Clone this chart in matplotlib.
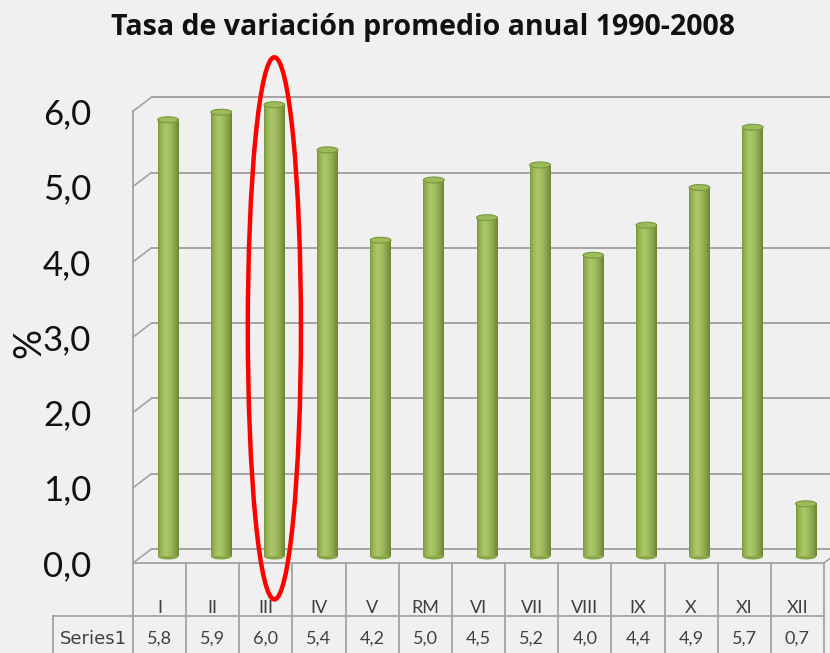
import numpy as np
import matplotlib
matplotlib.use("Agg")
import matplotlib.pyplot as plt
import matplotlib.transforms as mtransforms
from matplotlib.patches import Ellipse

# data
categories = ["I", "II", "III", "IV", "V", "RM", "VI", "VII", "VIII", "IX", "X", "XI", "XII"]
values = [5.8, 5.9, 6.0, 5.4, 4.2, 5.0, 4.5, 5.2, 4.0, 4.4, 4.9, 5.7, 0.7]
yticks = [0, 1, 2, 3, 4, 5, 6]
series_name = "Series1"
highlight = "III"

W, H = 830, 653
fig = plt.figure(figsize=(W / 100, H / 100), dpi=100)
fig.patch.set_facecolor("#f0f0f0")

# front plane of the 3D box in pixels
x0_px, colw = 133, 53.15
y0_px, unit = 563, 75.3
ax = fig.add_axes([x0_px / W, 1 - y0_px / H, 13 * colw / W, 6 * unit / H])
ax.set_xlim(-0.5, 12.5)
ax.set_ylim(0, 6)
ax.set_facecolor("none")
for s in ax.spines.values():
    s.set_visible(False)
ax.set_xticks([])
ax.set_yticks(yticks)
ax.set_yticklabels([f"{v:.1f}".replace(".", ",") for v in yticks],
                   fontsize=25, family="Lato", color="#111111")
ax.tick_params(axis="y", length=0, pad=30)

def shift(dx, dy):
    return ax.transData + mtransforms.ScaledTranslation(dx / 100, dy / 100, fig.dpi_scale_trans)

back = shift(18.5, 14)
mid = shift(8.5, 6.5)
grid_c = "#a3a3a3"
xr = -0.5 + (W - x0_px) / colw + 0.5

# back wall gridlines and side wall diagonals
for v in yticks:
    ax.plot([-0.5, xr], [v, v], color=grid_c, lw=1.4, transform=back, clip_on=False, zorder=1)
    ax.plot([-0.5, -0.5 + 18.5 / colw], [v, v + 14 / unit], color=grid_c, lw=1.2,
            clip_on=False, zorder=1)
# front left edge and floor front edge
ax.plot([-0.5, -0.5], [0, 6], color=grid_c, lw=1.3, clip_on=False, zorder=1)
ax.plot([-0.5, 12.5], [0, 0], color=grid_c, lw=1.3, clip_on=False, zorder=1)
ax.plot([12.5, 12.5 + 8 / colw], [0, 6 / unit], color=grid_c, lw=1.2, clip_on=False, zorder=1)

# cylinders
xs = np.arange(len(categories))
bw = 0.39
bars = ax.bar(xs, values, width=bw, color="#8fae4b", transform=mid, zorder=3, clip_on=False)
t = np.linspace(0, 1, 60)
dark_l = np.array([0x76, 0x93, 0x3c]) / 255
light = np.array([0xab, 0xc8, 0x67]) / 255
dark_r = np.array([0x6a, 0x85, 0x33]) / 255
grad = np.zeros((1, 60, 3))
for i, tt in enumerate(t):
    if tt < 0.35:
        f = (tt / 0.35) ** 0.6
        grad[0, i] = dark_l + (light - dark_l) * f
    else:
        f = ((tt - 0.35) / 0.65) ** 1.6
        grad[0, i] = light + (dark_r - light) * f
eh = 6 / unit
for x, v, b in zip(xs, values, bars):
    ax.add_patch(Ellipse((x, 0), bw, eh, facecolor="#86a445", edgecolor="none",
                         transform=mid, zorder=2.9, clip_on=False))
    im = ax.imshow(grad, extent=(x - bw / 2, x + bw / 2, 0, v), aspect="auto",
                   transform=mid, zorder=3.1, clip_on=False)
    im.set_clip_path(b)
    ax.add_patch(Ellipse((x, v), bw, eh, facecolor="#9cbb5a", edgecolor="#7b963f",
                         lw=0.8, transform=mid, zorder=3.2, clip_on=False))
ax.set_xlim(-0.5, 12.5)
ax.set_ylim(0, 6)

# red highlight ellipse
hi = categories.index(highlight)
ax.add_patch(Ellipse((hi, max(values) / 2 + 0.03), 1.0, 7.2, facecolor="none",
                     edgecolor="#ff0000", lw=3.2, transform=mid, zorder=5, clip_on=False))

# data table
tb = mtransforms.blended_transform_factory(ax.transData, fig.transFigure)
def fy(ypx):
    return 1 - ypx / H
x_left = -0.5 - (x0_px - 53) / colw
ax.plot([x_left, 12.5], [fy(616), fy(616)], color=grid_c, lw=1.3, transform=tb, clip_on=False)
ax.plot([x_left, x_left], [fy(616), 0], color=grid_c, lw=1.3, transform=tb, clip_on=False)
for k in range(14):
    ax.plot([k - 0.5, k - 0.5], [fy(563), 0], color=grid_c, lw=1.3, transform=tb, clip_on=False)
for x, c, v in zip(xs, categories, values):
    ax.text(x, fy(613), c, ha="center", va="baseline", fontsize=13, family="Lato",
            color="#404040", transform=tb)
    ax.text(x, fy(644), f"{v:.1f}".replace(".", ","), ha="center", va="baseline",
            fontsize=13, family="Lato", color="#404040", transform=tb)
ax.text((x_left - 0.5) / 2, fy(644), series_name, ha="center", va="baseline",
        fontsize=13, family="DejaVu Sans", color="#404040", transform=tb)

# y label and title
fig.text(29 / W, fy(343), "%", rotation=90, ha="center", va="center", fontsize=27,
         family="Lato", color="#111111")
fig.text(423 / W, fy(28), "Tasa de variación promedio anual 1990-2008", ha="center",
         va="center", fontsize=20.5, family="Open Sans", weight="bold", color="#111111")

fig.savefig("out.png", dpi=100, facecolor=fig.get_facecolor())
